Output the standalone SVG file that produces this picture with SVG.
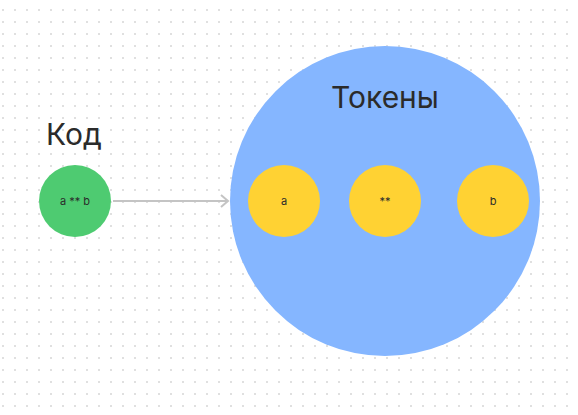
<svg xmlns="http://www.w3.org/2000/svg" width="578" height="415" viewBox="0 0 578 415">
<defs>
<pattern id="grid" x="0" y="0" width="12" height="12" patternUnits="userSpaceOnUse">
<rect x="2" y="9" width="2" height="2" fill="#e0e0e0"/>
</pattern>
<marker id="arr" markerWidth="14" markerHeight="14" refX="12" refY="7" orient="auto" markerUnits="userSpaceOnUse">
<path d="M5,1 L12,7 L5,13" fill="none" stroke="#c4c4c4" stroke-width="2"/>
</marker>
<style>
.lbl{font-family:"Inter","Liberation Sans",sans-serif;fill:#2b2b2b;text-anchor:middle}
.big{font-size:30px;text-anchor:start}
.sm{font-size:11px}
.tok{fill:#ffd233}
</style>
</defs>
<rect width="578" height="415" fill="#ffffff"/>
<rect width="578" height="415" fill="url(#grid)"/>
<g id="connectors">
<line x1="113" y1="201" x2="228" y2="201" stroke="#c4c4c4" stroke-width="2" marker-end="url(#arr)"/>
</g>
<g id="code">
<text class="lbl big" x="46" y="145">Код</text>
<circle cx="75" cy="201" r="36" fill="#4ecb71"/>
<text class="lbl sm" x="75" y="205">a ** b</text>
</g>
<g id="tokens">
<circle cx="385" cy="201" r="155" fill="#85b6ff"/>
<text class="lbl big" x="385" y="108" style="text-anchor:middle">Токены</text>
</g>
<g id="token-a">
<circle class="tok" cx="284" cy="201" r="36"/>
<text class="lbl sm" x="284" y="205">a</text>
</g>
<g id="token-pow">
<circle class="tok" cx="385" cy="201" r="36"/>
<text class="lbl sm" x="385" y="205">**</text>
</g>
<g id="token-b">
<circle class="tok" cx="493" cy="201" r="36"/>
<text class="lbl sm" x="493" y="205">b</text>
</g>
</svg>
